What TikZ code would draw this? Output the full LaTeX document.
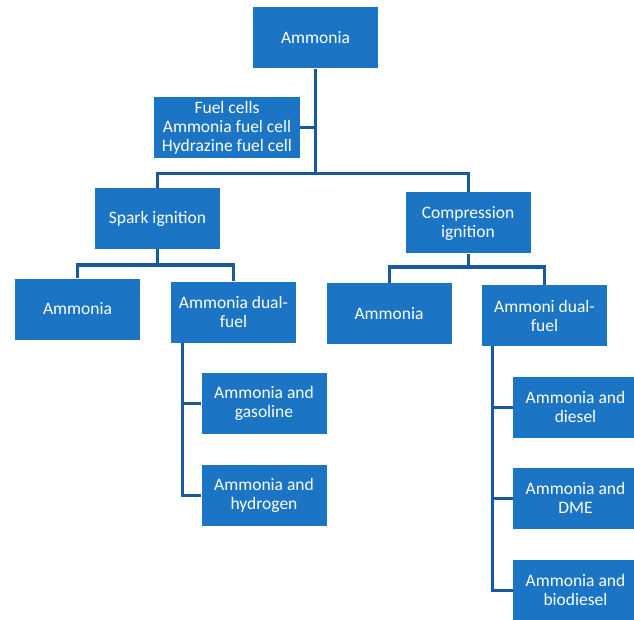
\documentclass[tikz,border=0pt]{standalone}
\usepackage{fontspec}
\setmainfont{Carlito}
\usepackage{tikz}
\definecolor{boxblue}{RGB}{28,117,196}
\definecolor{lineblue}{RGB}{24,88,158}
\tikzstyle{box} = [fill=boxblue,text=white,align=center,inner sep=0pt,minimum width=125pt,minimum height=61pt,font=\fontsize{17.5}{19}\selectfont]
\tikzstyle{link} = [draw=lineblue,line width=3pt]

\begin{document}
\begin{tikzpicture}[x=1pt,y=-1pt]
          \useasboundingbox (0,0) rectangle (634,620);
          \clip (0,0) rectangle (634,620);
          \node[box] at (315.5,38) (top) {Ammonia};
          \node[box, minimum width=146pt] at (227,128) (fuel) {Fuel cells\\Ammonia fuel cell\\Hydrazine fuel cell};
          \node[box] at (157.5,218.5) (spark) {Spark ignition};
          \node[box] at (468,223) (ci) {Compression\\ignition};
          \node[box] at (77.5,309) (ammsi) {Ammonia};
          \node[box] at (233.5,312) (dualsi) {Ammonia dual-\\fuel};
          \node[box] at (389,313.5) (ammci) {Ammonia};
          \node[box] at (544.5,315.5) (dualci) {Ammoni dual-\\fuel};
          \node[box] at (264,403) (gasoline) {Ammonia and\\gasoline};
          \node[box] at (264,495.5) (hydrogen) {Ammonia and\\hydrogen};
          \node[box] at (575.5,407) (diesel) {Ammonia and\\diesel};
          \node[box] at (575.5,498) (dme) {Ammonia and\\DME};
          \node[box] at (575.5,590) (biodiesel) {Ammonia and\\biodiesel};

          \coordinate (trunk) at (315.5,174);
          \coordinate (sk) at (157.5,265);
          \coordinate (ck) at (468,267);

          \draw[link] (top.south) -- (trunk);
          \draw[link] (fuel.east) -- (fuel.east -| trunk);
          \draw[link] (trunk) -| (spark.north);
          \draw[link] (trunk) -| (ci.north);
          \draw[link] (spark.south) -- (sk);
          \draw[link] (sk) -| (ammsi.north);
          \draw[link] (sk) -| (dualsi.north);
          \draw[link] (ci.south) -- (ck);
          \draw[link] (ck) -| (ammci.north);
          \draw[link] (ck) -| (dualci.north);
          \draw[link] ([xshift=12pt]dualsi.south west) |- (gasoline.west);
          \draw[link] ([xshift=12pt]dualsi.south west) |- (hydrogen.west);
          \draw[link] ([xshift=11pt]dualci.south west) |- (diesel.west);
          \draw[link] ([xshift=11pt]dualci.south west) |- (dme.west);
          \draw[link] ([xshift=11pt]dualci.south west) |- (biodiesel.west);
        \end{tikzpicture}
\end{document}
